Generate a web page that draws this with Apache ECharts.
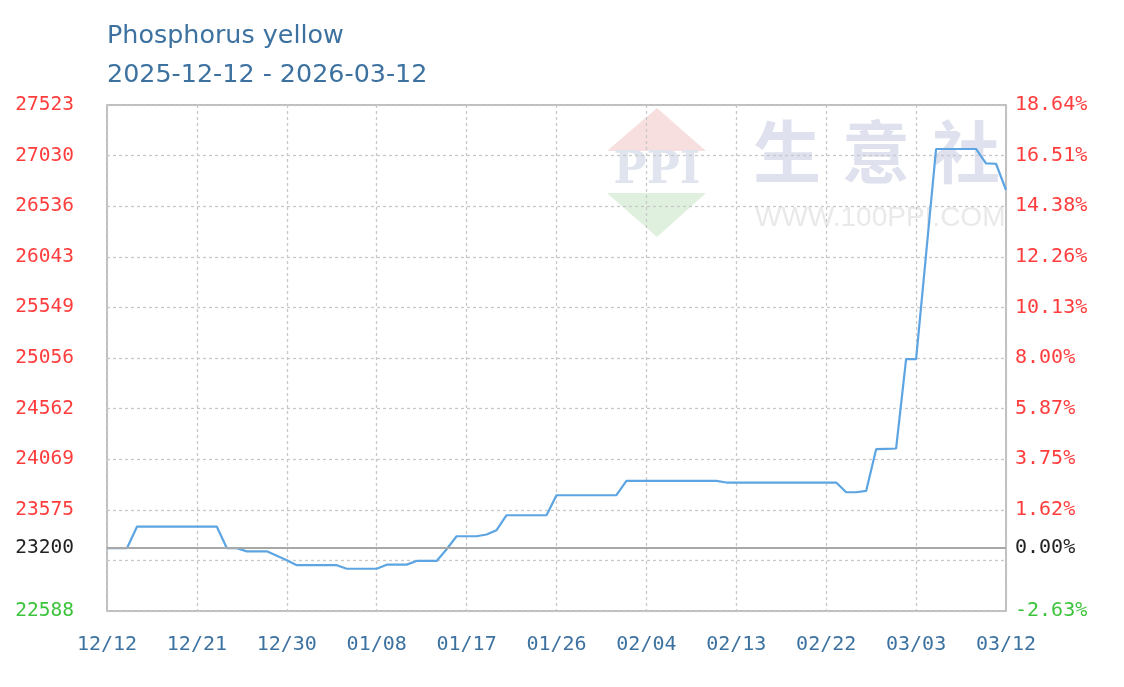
<!DOCTYPE html>
<html>
<head>
<meta charset="utf-8">
<title>Phosphorus yellow</title>
<script src="https://cdn.jsdelivr.net/npm/echarts@6/dist/echarts.min.js"></script>
<style>
html, body { margin: 0; padding: 0; background: #fff; }
#chart { width: 1124px; height: 687px; }
</style>
</head>
<body>
<div id="chart"></div>
<script>
// chart texts
var titleText = 'Phosphorus yellow';
var rangeText = '2025-12-12 - 2026-03-12';
var startDate = '2025-12-12';

// daily price, 12/12 .. 03/12
var prices = [
    23200, 23200, 23200, 23410, 23410, 23410, 23410, 23410, 23410, 23410,
    23410, 23410, 23200, 23200, 23170, 23170, 23170, 23127, 23083, 23035,
    23035, 23035, 23035, 23035, 23000, 23000, 23000, 23000, 23040, 23040,
    23040, 23076, 23076, 23076, 23190, 23317, 23317, 23317, 23334, 23376,
    23522, 23522, 23522, 23522, 23522, 23717, 23717, 23717, 23717, 23717,
    23717, 23717, 23857, 23857, 23857, 23857, 23857, 23857, 23857, 23857,
    23857, 23857, 23841, 23841, 23841, 23841, 23841, 23841, 23841, 23841,
    23841, 23841, 23841, 23841, 23746, 23746, 23759, 24166, 24170, 24173,
    25044, 25044, 26069, 27094, 27094, 27094, 27094, 27094, 26954, 26950, 26694
];

// value axis
var yMin = 22588;
var yMax = 27523;
var basePrice = 23200;
var leftLabels = ['22588', '', '23575', '24069', '24562', '25056', '25549', '26043', '26536', '27030', '27523'];
var rightLabels = ['-2.63%', '', '1.62%', '3.75%', '5.87%', '8.00%', '10.13%', '12.26%', '14.38%', '16.51%', '18.64%'];
var baseLeftLabel = '23200';
var baseRightLabel = '0.00%';

var upColor = '#ff3d3d';
var downColor = '#3cc43c';
var baseColor = '#222';
var blue = '#3d72a0';
var labelFont = '"DejaVu Sans Mono", monospace';

// categories: one per day
var dates = [];
(function() {
    var d = new Date(startDate + 'T00:00:00Z');
    for (var i = 0; i < prices.length; i++) {
        var m = d.getUTCMonth() + 1, day = d.getUTCDate();
        dates.push((m < 10 ? '0' : '') + m + '/' + (day < 10 ? '0' : '') + day);
        d.setUTCDate(day + 1);
    }
})();

var step = (yMax - yMin) / (leftLabels.length - 1);
var tickValues = leftLabels.map(function(l, i) { return yMin + i * step; });
var labelValues = tickValues.filter(function(v, i) { return leftLabels[i] !== ''; });
labelValues.push(basePrice);

function tickIndex(v) {
    return Math.round((v - yMin) / step);
}
function isBase(v) {
    return Math.abs(v - basePrice) < 0.5;
}
function labelColor(v) {
    if (isBase(v)) return baseColor;
    return tickIndex(v) === 0 ? downColor : upColor;
}

var chart = echarts.init(document.getElementById('chart'));
var option = {
    animation: false,
    backgroundColor: '#fff',
    title: [{
        left: 107, top: 24, padding: 0,
        text: titleText,
        textStyle: { fontFamily: 'DejaVu Sans', fontSize: 25.4, fontWeight: 'normal', color: blue }
    }, {
        left: 107, top: 63, padding: 0,
        text: rangeText,
        textStyle: { fontFamily: 'DejaVu Sans', fontSize: 25.4, fontWeight: 'normal', color: blue }
    }],
    graphic: [
        { type: 'polygon', z: -1, shape: { points: [[657, 108], [607, 151], [706, 151]] }, style: { fill: '#f8dfdf' } },
        { type: 'text', z: -1, x: 657, y: 172, style: { text: 'PPI', fill: '#dfe4ef', font: 'bold 44px "DejaVu Serif"', align: 'center', verticalAlign: 'middle' } },
        { type: 'polygon', z: -1, shape: { points: [[607, 193], [706, 193], [657, 237]] }, style: { fill: '#dff0df' } },
        { type: 'text', z: -1, x: 787, y: 152, style: { text: '生', fill: '#dfe2ee', font: 'bold 68px "Noto Sans CJK SC"', align: 'center', verticalAlign: 'middle' } },
        { type: 'text', z: -1, x: 876, y: 152, style: { text: '意', fill: '#dfe2ee', font: 'bold 68px "Noto Sans CJK SC"', align: 'center', verticalAlign: 'middle' } },
        { type: 'text', z: -1, x: 966, y: 152, style: { text: '社', fill: '#dfe2ee', font: 'bold 68px "Noto Sans CJK SC"', align: 'center', verticalAlign: 'middle' } },
        { type: 'text', z: -1, x: 755, y: 218, style: { text: 'WWW.100PPI.COM', fill: '#e9e9e9', font: '28px "Liberation Sans"', align: 'left', verticalAlign: 'middle' } }
    ],
    grid: {
        left: 107, right: 118, top: 105, bottom: 76,
        show: true, borderColor: '#aaa', borderWidth: 1.5,
        backgroundColor: 'transparent'
    },
    xAxis: {
        type: 'category',
        data: dates,
        boundaryGap: false,
        axisLine: { show: false },
        axisTick: { show: false },
        axisLabel: {
            interval: 8, margin: 24,
            color: blue, fontFamily: labelFont, fontSize: 20
        },
        splitLine: {
            show: true, interval: 8,
            lineStyle: { color: '#c8c8c8', type: [3, 3], width: 1.3 }
        }
    },
    yAxis: [{
        type: 'value',
        min: yMin, max: yMax,
        axisLine: { show: false },
        axisTick: { show: false, customValues: tickValues },
        axisLabel: {
            customValues: labelValues,
            margin: 33,
            fontFamily: labelFont, fontSize: 19.5,
            color: labelColor,
            formatter: function(v) {
                return isBase(v) ? baseLeftLabel : leftLabels[tickIndex(v)];
            }
        },
        splitLine: {
            show: true,
            lineStyle: { color: '#c8c8c8', type: [3, 3], width: 1.3 }
        }
    }, {
        type: 'value',
        position: 'right',
        min: yMin, max: yMax,
        axisLine: { show: false },
        axisTick: { show: false, customValues: tickValues },
        axisLabel: {
            customValues: labelValues,
            margin: 9,
            fontFamily: labelFont, fontSize: 20,
            color: labelColor,
            formatter: function(v) {
                return isBase(v) ? baseRightLabel : rightLabels[tickIndex(v)];
            }
        },
        splitLine: { show: false }
    }],
    series: [{
        type: 'line',
        data: prices,
        showSymbol: false,
        symbol: 'none',
        lineStyle: { color: '#5ca5e2', width: 2.2 },
        markLine: {
            silent: true,
            symbol: 'none',
            label: { show: false },
            lineStyle: { color: '#a8a8a8', type: 'solid', width: 2 },
            data: [{ yAxis: basePrice }]
        },
        z: 3
    }]
};
chart.setOption(option);
</script>
</body>
</html>
